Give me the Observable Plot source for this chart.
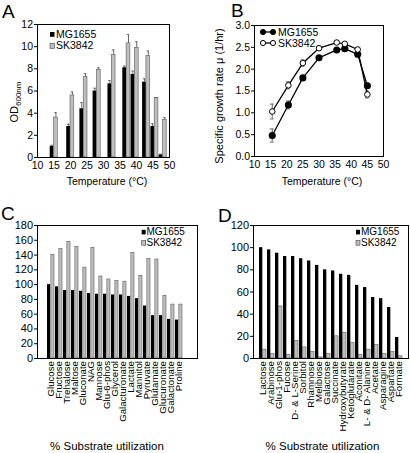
<!DOCTYPE html>
<html><head><meta charset="utf-8">
<script src="https://cdn.jsdelivr.net/npm/d3@7"></script>
<script src="https://cdn.jsdelivr.net/npm/@observablehq/plot@0.6"></script>
<style>
html,body{margin:0;padding:0;background:#fff;}
#fig{position:relative;width:410px;height:453px;overflow:hidden;font-family:"Liberation Sans",Arial,Helvetica,sans-serif;}
#fig > svg{position:absolute;overflow:visible;}
</style></head><body><div id="fig"></div>
<script>
// ---------- Data ----------
// Panel A: final OD600 vs temperature
const tempA = [15, 20, 24, 28, 32.5, 37, 39.5, 43, 45.5, 48];
const odMG = [1.0, 2.8, 4.4, 6.0, 6.65, 8.1, 7.5, 6.8, 2.8, 0.25];
const odMGerr = [0.1, 0.2, 0.55, 0.25, 0.3, 0.15, 0.3, 0.3, 0.25, 0.05];
const odSK = [3.6, 5.6, 7.25, 7.9, 9.25, 10.3, 9.9, 9.15, 5.35, 3.4];
const odSKerr = [0.45, 0.3, 0.3, 0.2, 0.45, 0.8, 0.55, 0.45, 0.05, 0.2];

// Panel B: specific growth rate vs temperature
const tempB = [15.5, 20.5, 25, 30, 35.5, 38, 42, 45];
const muMG = [0.48, 1.18, 1.8, 2.26, 2.44, 2.47, 2.34, 1.62];
const muMGerr = [0.15, 0.09, 0.05, 0.05, 0.03, 0.04, 0.06, 0.06];
const muSK = [1.03, 1.63, 2.14, 2.48, 2.61, 2.58, 2.45, 1.42];
const muSKerr = [0.17, 0.08, 0.07, 0.04, 0.03, 0.03, 0.05, 0.08];

// Panel C: substrates utilized better by SK3842
const subsC = ["Glucose","Fructose","Trehalose","Maltose","Gluconate","NAG","Mannose","Glu-6-phos","Glycerol","Galacturonate","Lactate","Mannitol","Pyruvate","Glutamate","Glucuronate","Galactonate","Proline"];
const cMG = [100, 97, 92, 92, 91, 88, 87, 87, 86, 86, 84, 81, 71, 58, 58, 53, 52];
const cSK = [140, 148, 158, 151, 123, 150, 111, 107, 105, 104, 143, 112, 135, 134, 85, 73, 73];

// Panel D: substrates utilized poorly by SK3842
const subsD = ["Lactose","Arabinose","Glu-1-phos","Fucose","D- & L-Serine","Sorbitol","Rhamnose","Melibiose","Galactose","Succinate","Hydroxybutyrate","Ketoglutarate","Aconitate","L- & D- Alanine","Acetate","Asparagine","Aspartate","Formate"];
const dMG = [100, 98, 95, 92, 92, 90, 88, 84, 80, 79, 76, 75, 66, 64, 55, 54, 46, 19];
const dSK = [8, 4, 47, 3, 16, 10, 6, 1, 4, 20, 23, 14, 3, 8, 12, 4, 6, 2];

const strains = ["MG1655", "SK3842"];
const yTicksA = d3.range(0, 13, 2);
const yTicksB = d3.range(0, 3.01, 0.5);
const yTicksC = d3.range(0, 181, 20);
const yTicksD = d3.range(0, 121, 20);
const xTicksT = d3.range(10, 51, 5);

// ---------- Styling ----------
const FONT = '"Liberation Sans", Arial, Helvetica, sans-serif';
const GREY = "#bebebe";
const EDGE = "#444";
const ERR = "#666";
const fig = document.getElementById("fig");
function place(svg, left, top) { svg.style.left = left + "px"; svg.style.top = top + "px"; fig.appendChild(svg); return svg; }
const baseStyle = size => ({fontFamily: FONT, fontSize: size, color: "#000", background: "transparent", overflow: "visible"});

// ---------- Panel A ----------
const dataA = tempA.map((t, i) => ({t, mg: odMG[i], mgE: odMGerr[i], sk: odSK[i], skE: odSKerr[i]}));
const hw = 1.15; // bar width in °C
const plotA = Plot.plot({
  width: 205, height: 200,
  marginLeft: 37, marginRight: 36, marginTop: 24, marginBottom: 43,
  style: baseStyle("10.5px"),
  x: {domain: [10, 50]},
  y: {domain: [0, 12]},
  marks: [
    Plot.rect(dataA, {x1: d => d.t - hw, x2: d => d.t, y1: 0, y2: "mg", fill: "black"}),
    Plot.rect(dataA, {x1: d => d.t, x2: d => d.t + hw, y1: 0, y2: "sk", fill: GREY, stroke: EDGE, strokeWidth: 0.5}),
    Plot.ruleX(dataA, {x: d => d.t - hw / 2, y1: "mg", y2: d => d.mg + d.mgE, stroke: ERR}),
    Plot.ruleY(dataA, {y: d => d.mg + d.mgE, x1: d => d.t - hw * 0.8, x2: d => d.t - hw * 0.2, stroke: ERR}),
    Plot.ruleX(dataA, {x: d => d.t + hw / 2, y1: "sk", y2: d => d.sk + d.skE, stroke: ERR}),
    Plot.ruleY(dataA, {y: d => d.sk + d.skE, x1: d => d.t + hw * 0.2, x2: d => d.t + hw * 0.8, stroke: ERR}),
    Plot.axisX({ticks: xTicksT, tickSize: 0, tickPadding: 4, label: null}),
    Plot.axisY({ticks: yTicksA, tickSize: 3, tickPadding: 1.5, label: null}),
    Plot.frame({stroke: "black"})
  ]
});
place(plotA, 0, 0);

// ---------- Panel B ----------
const dataB = tempB.map((t, i) => ({t, mg: muMG[i], mgE: muMGerr[i], sk: muSK[i], skE: muSKerr[i]}));
const cap = 0.6;
const plotB = Plot.plot({
  width: 205, height: 200,
  marginLeft: 49, marginRight: 27, marginTop: 25, marginBottom: 44,
  style: baseStyle("10.5px"),
  x: {domain: [10, 50]},
  y: {domain: [0, 3]},
  marks: [
    Plot.ruleX(dataB, {x: "t", y1: d => d.sk - d.skE, y2: d => d.sk + d.skE, stroke: ERR}),
    Plot.ruleY(dataB, {y: d => d.sk + d.skE, x1: d => d.t - cap, x2: d => d.t + cap, stroke: ERR}),
    Plot.ruleY(dataB, {y: d => d.sk - d.skE, x1: d => d.t - cap, x2: d => d.t + cap, stroke: ERR}),
    Plot.ruleX(dataB, {x: "t", y1: d => d.mg - d.mgE, y2: d => d.mg + d.mgE, stroke: ERR}),
    Plot.ruleY(dataB, {y: d => d.mg + d.mgE, x1: d => d.t - cap, x2: d => d.t + cap, stroke: ERR}),
    Plot.ruleY(dataB, {y: d => d.mg - d.mgE, x1: d => d.t - cap, x2: d => d.t + cap, stroke: ERR}),
    Plot.line(dataB, {x: "t", y: "mg", stroke: "black", strokeWidth: 1.3}),
    Plot.line(dataB, {x: "t", y: "sk", stroke: "black", strokeWidth: 1.3}),
    Plot.dot(dataB, {x: "t", y: "mg", r: 2.8, fill: "black", stroke: "black"}),
    Plot.dot(dataB, {x: "t", y: "sk", r: 2.8, fill: "white", stroke: "black", strokeWidth: 1}),
    Plot.axisX({ticks: xTicksT, tickSize: 0, tickPadding: 4, label: null}),
    Plot.axisY({ticks: yTicksB, tickFormat: d3.format(".1f"), tickSize: 3, tickPadding: 1.5, label: null}),
    Plot.frame({stroke: "black"})
  ]
});
place(plotB, 205, 0);

// ---------- Panels C and D ----------
const bottomC = 158; // frame bottom inside the C/D svgs (height 253 - marginBottom 95)
function substratePlot(cats, mg, sk, yMax, yTicks, marginLeft, marginRight, range) {
  const data = cats.map((c, i) => ({c, mg: mg[i], sk: sk[i]}));
  const pad = 0.12;
  const step = (range[1] - range[0]) / (cats.length - pad + 2 * pad);
  const half = step * (1 - pad) / 2;
  return Plot.plot({
    width: 205, height: 253,
    marginLeft, marginRight, marginTop: 25, marginBottom: 253 - bottomC,
    style: baseStyle("11px"),
    x: {type: "band", domain: cats, range, padding: pad, axis: null},
    y: {domain: [0, yMax]},
    marks: [
      Plot.barY(data, {x: "c", y: "mg", fill: "black", insetRight: half}),
      Plot.barY(data, {x: "c", y: "sk", fill: GREY, stroke: EDGE, strokeWidth: 0.5, insetLeft: half}),
      Plot.axisY({ticks: yTicks, tickSize: 3, tickPadding: 1.5, label: null}),
      Plot.frame({stroke: "black"})
    ]
  });
}
const plotC = place(substratePlot(subsC, cMG, cSK, 180, yTicksC, 37, 8, [39, 189.5]), 0, 200);
const plotD = place(substratePlot(subsD, dMG, dSK, 120, yTicksD, 48, 2, [50, 202]), 205, 200);

// ---------- Annotations (panel letters, axis titles, legends, category labels) ----------
const ov = d3.create("svg").attr("width", 410).attr("height", 453)
  .style("left", "0px").style("top", "0px")
  .attr("font-family", FONT).attr("fill", "black");

function txt(s, x, y, size, anchor = "start", rotate = 0) {
  const t = ov.append("text").attr("x", x).attr("y", y).attr("font-size", size).attr("text-anchor", anchor).text(s);
  if (rotate) t.attr("transform", `rotate(${rotate},${x},${y})`);
  return t;
}
// category labels hanging below C and D, placed with each plot's own x scale
[[plotC, subsC, 0], [plotD, subsD, 205]].forEach(([p, cats, left]) => {
  const xs = p.scale("x");
  cats.forEach(c => {
    const cx = left + xs.apply(c) + xs.bandwidth / 2;
    txt(c, cx, 200 + bottomC + 3, 9.7, "end", -90).attr("dy", "0.35em");
  });
});
// panel letters
txt("A", 2, 18, 19); txt("B", 231, 17, 19); txt("C", 1, 220, 19); txt("D", 218, 222, 19);
// axis titles
txt("Temperature (°C)", 107, 184.5, 10.5, "middle");
txt("Temperature (°C)", 322, 184.5, 10.5, "middle");
txt("% Substrate utilization", 107, 449.5, 11.5, "middle");
txt("% Substrate utilization", 322.5, 449.5, 11.5, "middle");
const od = ov.append("text").attr("x", 18).attr("y", 102).attr("font-size", 11).attr("text-anchor", "middle")
  .attr("transform", "rotate(-90,18,102)");
od.append("tspan").text("OD");
od.append("tspan").attr("font-size", 8).attr("dy", 2.5).text("600nm");
txt("Specific growth rate μ (1/hr)", 223, 96, 11, "middle", -90);

// legends: A (bars)
ov.append("rect").attr("x", 50).attr("y", 32).attr("width", 4.5).attr("height", 4.8).attr("fill", "black");
txt(strains[0], 56, 38.3, 10.5);
ov.append("rect").attr("x", 50).attr("y", 43.5).attr("width", 4.5).attr("height", 4.8).attr("fill", GREY).attr("stroke", EDGE).attr("stroke-width", 0.6);
txt(strains[1], 56, 49.3, 10.5);
// legend B (lines + dots)
[[32, "black", strains[0], 36.2], [43, "white", strains[1], 46.8]].forEach(([y, f, s, by]) => {
  ov.append("line").attr("x1", 263).attr("x2", 273).attr("y1", y).attr("y2", y).attr("stroke", "black").attr("stroke-width", 1.3);
  [263, 273].forEach(x => ov.append("circle").attr("cx", x).attr("cy", y).attr("r", 2.6).attr("fill", f).attr("stroke", "black"));
  txt(s, 278, by, 10.5);
});
// legends C, D
[[141.7, 146.5], [356, 361]].forEach(([rx, tx]) => {
  ov.append("rect").attr("x", rx).attr("y", 229.8).attr("width", 4).attr("height", 4.6).attr("fill", "black");
  txt(strains[0], tx, 235.3, 10);
  ov.append("rect").attr("x", rx).attr("y", 240.6).attr("width", 4).attr("height", 4.6).attr("fill", GREY).attr("stroke", EDGE).attr("stroke-width", 0.6);
  txt(strains[1], tx, 246, 10);
});
fig.appendChild(ov.node());
ov.node().style.position = "absolute";
</script></body></html>
